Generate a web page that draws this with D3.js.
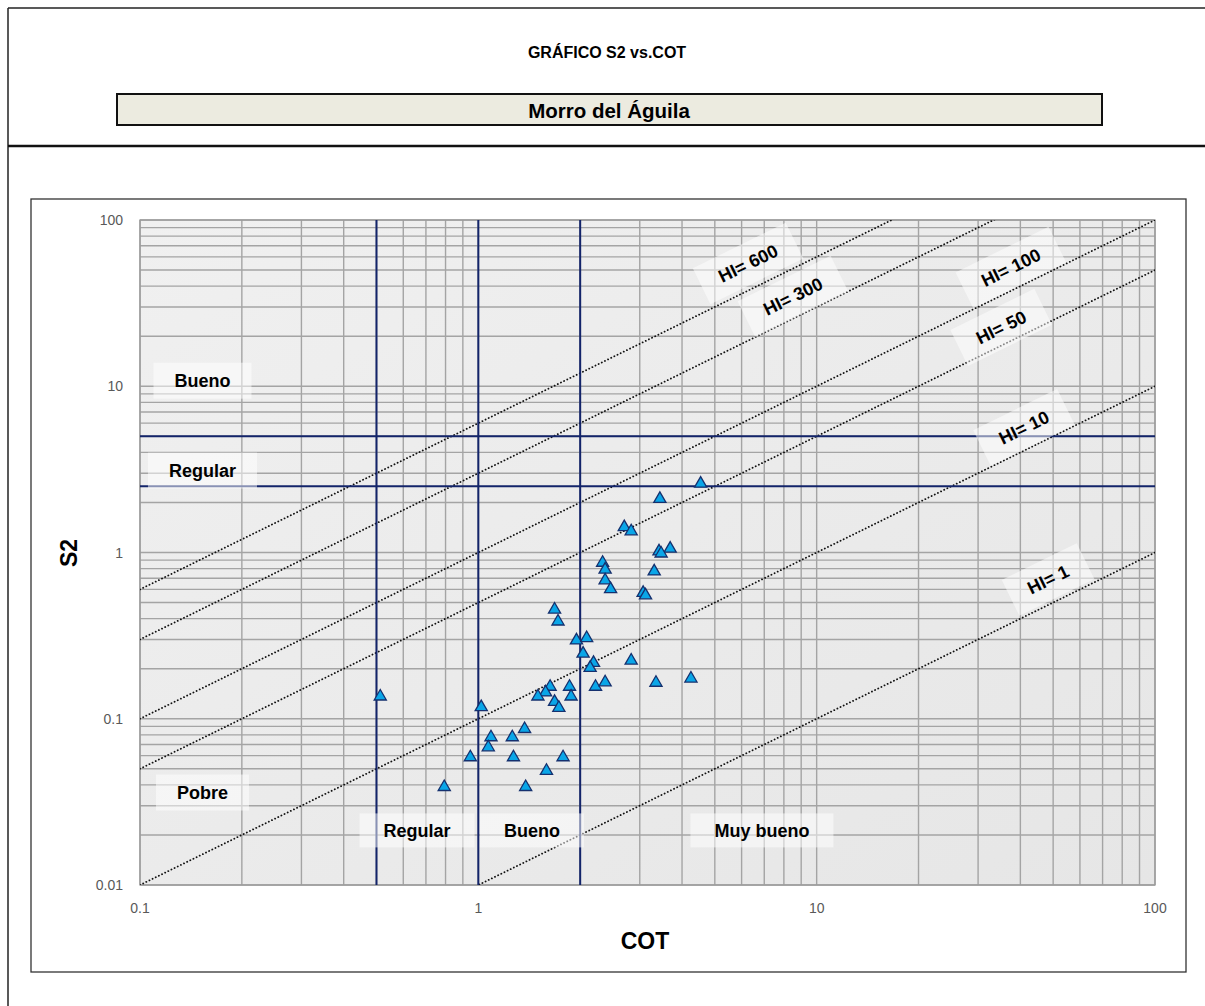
<!DOCTYPE html>
<html><head><meta charset="utf-8">
<script src="https://cdn.jsdelivr.net/npm/d3@7"></script>
<style>
html,body{margin:0;padding:0;background:#fff;}
text{font-family:"Liberation Sans",Arial,sans-serif;}
</style></head>
<body>
<svg id="c" width="1205" height="1006"></svg>
<script>
// ---- data ----
const cot = [4.54,3.44,2.70,2.83,3.69,3.42,3.47,2.33,2.37,3.31,2.37,2.46,3.07,3.12,1.68,1.72,1.95,2.09,2.04,2.19,2.14,2.83,3.35,4.25,2.22,2.37,1.86,1.88,1.63,1.58,1.50,1.68,1.73,0.513,1.02,1.37,1.26,1.09,1.07,0.947,1.27,1.78,1.59,0.793,1.38];
const s2  = [2.63,2.13,1.44,1.36,1.07,1.03,1.00,0.88,0.80,0.78,0.69,0.61,0.58,0.56,0.46,0.39,0.30,0.31,0.25,0.22,0.205,0.227,0.167,0.177,0.158,0.168,0.158,0.138,0.158,0.146,0.138,0.128,0.118,0.138,0.119,0.088,0.0785,0.0785,0.0683,0.0595,0.0595,0.0595,0.0493,0.0394,0.0394];
const hiValues = [600,300,100,50,10,1];
const hiLabels = ["HI= 600","HI= 300","HI= 100","HI= 50","HI= 10","HI= 1"];
const hiLabelCot = [6.27,8.51,37.5,35.1,41.0,48.3];
const hiLabelS2  = [54.8,34.7,51.8,22.6,5.65,0.688];
const cotLimits = [0.5,1,2];
const s2Limits = [2.5,5];
const s2ZoneLabels = ["Bueno","Regular","Pobre"];
const s2ZoneAt = [10.8,3.11,0.036];
const cotZoneLabels = ["Regular","Bueno","Muy bueno"];
const cotZoneAt = [0.659,1.44,6.89];
const xTicks = [0.1,1,10,100];
const yTicks = [0.01,0.1,1,10,100];
const title = "GRÁFICO S2 vs.COT";
const subtitle = "Morro del Águila";

const svg = d3.select("#c");
// frames
svg.append("line").attr("x1",8).attr("x2",1205).attr("y1",8).attr("y2",8).attr("stroke","#222").attr("stroke-width",1.5);
svg.append("line").attr("x1",8).attr("x2",8).attr("y1",8).attr("y2",1006).attr("stroke","#222").attr("stroke-width",1.5);
svg.append("line").attr("x1",8).attr("x2",1205).attr("y1",146).attr("y2",146).attr("stroke","#111").attr("stroke-width",2.5);
svg.append("text").attr("x",607).attr("y",58).attr("text-anchor","middle").attr("font-weight","bold").attr("font-size",16).text(title);
svg.append("rect").attr("x",117).attr("y",94).attr("width",985).attr("height",31).attr("fill","#ecebe0").attr("stroke","#111").attr("stroke-width",2);
svg.append("text").attr("x",609).attr("y",118).attr("text-anchor","middle").attr("font-weight","bold").attr("font-size",20.5).text(subtitle);
svg.append("rect").attr("x",31).attr("y",199).attr("width",1155).attr("height",773).attr("fill","#fff").attr("stroke","#333").attr("stroke-width",1.3);

const L=140,R=1155,T=220,B=885;
const x = d3.scaleLog().domain([0.1,100]).range([L,R]);
const y = d3.scaleLog().domain([0.01,100]).range([B,T]);

const defs = svg.append("defs");
const g = defs.append("linearGradient").attr("id","bg").attr("x1","0").attr("y1","0").attr("x2","1").attr("y2","1");
g.append("stop").attr("offset","0").attr("stop-color","#f0f0f0");
g.append("stop").attr("offset","1").attr("stop-color","#e6e6e6");
defs.append("clipPath").attr("id","clip").append("rect").attr("x",L).attr("y",T).attr("width",R-L).attr("height",B-T);

svg.append("rect").attr("x",L).attr("y",T).attr("width",R-L).attr("height",B-T).attr("fill","url(#bg)");

// grid
const gridX=[],gridY=[];
for(let d=0.1;d<100;d*=10){for(let k=1;k<10;k++){gridX.push(d*k);}}
gridX.push(100);
for(let d=0.01;d<100;d*=10){for(let k=1;k<10;k++){gridY.push(d*k);}}
gridY.push(100);
const grid = svg.append("g");
grid.selectAll("line.gx").data(gridX).join("line").attr("x1",d=>x(d)).attr("x2",d=>x(d)).attr("y1",T).attr("y2",B).attr("stroke","#a4a4a4").attr("stroke-width",1.4);
grid.selectAll("line.gy").data(gridY).join("line").attr("y1",d=>y(d)).attr("y2",d=>y(d)).attr("x1",L).attr("x2",R).attr("stroke","#a4a4a4").attr("stroke-width",1.4);
svg.append("rect").attr("x",L).attr("y",T).attr("width",R-L).attr("height",B-T).attr("fill","none").attr("stroke","#9a9a9a").attr("stroke-width",1.3);

// HI lines
const cl = svg.append("g").attr("clip-path","url(#clip)");
hiValues.forEach(h=>{
  const f=h/100;
  cl.append("line").attr("x1",x(0.1)).attr("y1",y(0.1*f)).attr("x2",x(100)).attr("y2",y(100*f))
    .attr("stroke","#111").attr("stroke-width",1.8).attr("stroke-dasharray","0.1,3.4").attr("stroke-linecap","round");
});

// limit lines
const navy="#13246a";
cl.selectAll("line.v").data(cotLimits).join("line").attr("x1",d=>x(d)).attr("x2",d=>x(d)).attr("y1",T).attr("y2",B).attr("stroke",navy).attr("stroke-width",2);
cl.selectAll("line.h").data(s2Limits).join("line").attr("y1",d=>y(d)).attr("y2",d=>y(d)).attr("x1",L).attr("x2",R).attr("stroke",navy).attr("stroke-width",2);

// zone labels with translucent boxes
function boxLabel(cx,cy,txt,rot,padX,h){
  const gg = svg.append("g").attr("transform",`translate(${cx},${cy}) rotate(${rot})`);
  const r = gg.append("rect").attr("fill","#fff").attr("fill-opacity",0.5);
  const t = gg.append("text").attr("text-anchor","middle").attr("dy","0.35em").attr("font-weight","bold").attr("font-size",18).attr("fill","#000").text(txt);
  const w = t.node().getComputedTextLength()+2*padX;
  r.attr("x",-w/2).attr("y",-h/2).attr("width",w).attr("height",h);
}
s2ZoneLabels.forEach((t,i)=>boxLabel(x(0.153),y(s2ZoneAt[i]),t,0,21,36));
cotZoneLabels.forEach((t,i)=>boxLabel(x(cotZoneAt[i]),y(0.0213),t,0,24,34));
const ang = -Math.atan((y(1)-y(10))/(x(10)-x(1)))*180/Math.PI;
hiLabels.forEach((t,i)=>boxLabel(x(hiLabelCot[i]),y(hiLabelS2[i]),t,ang,20,40));

// points
const sym = d3.symbol(d3.symbolTriangle,64);
svg.append("g").selectAll("path").data(cot.map((c,i)=>[c,s2[i]])).join("path")
  .attr("d",sym).attr("transform",d=>`translate(${x(d[0])},${y(d[1])+1})`)
  .attr("fill","#0aa6e8").attr("stroke","#15306e").attr("stroke-width",1.3);

// axes labels
svg.append("g").selectAll("text").data(xTicks).join("text").attr("x",d=>x(d)).attr("y",913).attr("text-anchor","middle").attr("font-size",14).attr("fill","#595959").text(d=>d);
svg.append("g").selectAll("text").data(yTicks).join("text").attr("x",123).attr("y",d=>y(d)+5).attr("text-anchor","end").attr("font-size",14).attr("fill","#595959").text(d=>d);
svg.append("text").attr("x",645).attr("y",949).attr("text-anchor","middle").attr("font-weight","bold").attr("font-size",23).text("COT");
svg.append("text").attr("transform","translate(77,553) rotate(-90)").attr("text-anchor","middle").attr("font-weight","bold").attr("font-size",23).text("S2");
</script>
</body></html>
